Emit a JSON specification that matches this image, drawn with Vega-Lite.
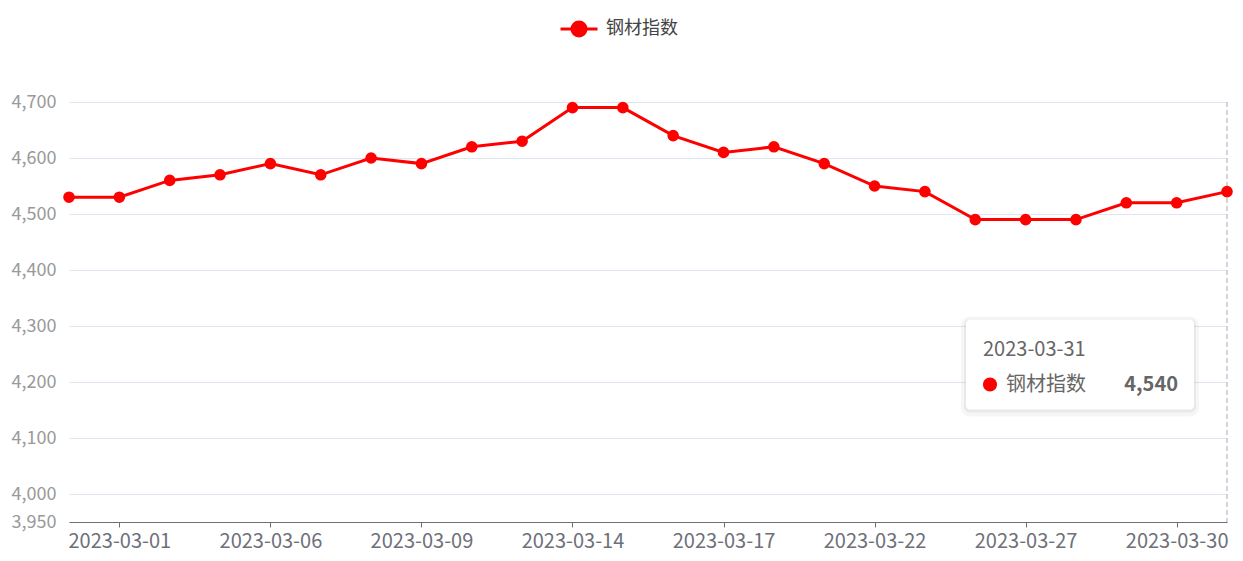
{
  "$schema": "https://vega.github.io/schema/vega-lite/v6.json",
  "width": 1158,
  "height": 420,
  "autosize": {"type": "none"},
  "padding": {"left": 69, "top": 102, "right": 16, "bottom": 39},
  "background": "#ffffff",
  "config": {
    "font": "Noto Sans CJK SC",
    "view": {"stroke": null}
  },
  "data": {
    "values": [
      {"date": "2023-02-28", "value": 4530, "series": "钢材指数"},
      {"date": "2023-03-01", "value": 4530, "series": "钢材指数"},
      {"date": "2023-03-02", "value": 4560, "series": "钢材指数"},
      {"date": "2023-03-03", "value": 4570, "series": "钢材指数"},
      {"date": "2023-03-06", "value": 4590, "series": "钢材指数"},
      {"date": "2023-03-07", "value": 4570, "series": "钢材指数"},
      {"date": "2023-03-08", "value": 4600, "series": "钢材指数"},
      {"date": "2023-03-09", "value": 4590, "series": "钢材指数"},
      {"date": "2023-03-10", "value": 4620, "series": "钢材指数"},
      {"date": "2023-03-13", "value": 4630, "series": "钢材指数"},
      {"date": "2023-03-14", "value": 4690, "series": "钢材指数"},
      {"date": "2023-03-15", "value": 4690, "series": "钢材指数"},
      {"date": "2023-03-16", "value": 4640, "series": "钢材指数"},
      {"date": "2023-03-17", "value": 4610, "series": "钢材指数"},
      {"date": "2023-03-20", "value": 4620, "series": "钢材指数"},
      {"date": "2023-03-21", "value": 4590, "series": "钢材指数"},
      {"date": "2023-03-22", "value": 4550, "series": "钢材指数"},
      {"date": "2023-03-23", "value": 4540, "series": "钢材指数"},
      {"date": "2023-03-24", "value": 4490, "series": "钢材指数"},
      {"date": "2023-03-27", "value": 4490, "series": "钢材指数"},
      {"date": "2023-03-28", "value": 4490, "series": "钢材指数"},
      {"date": "2023-03-29", "value": 4520, "series": "钢材指数"},
      {"date": "2023-03-30", "value": 4520, "series": "钢材指数"},
      {"date": "2023-03-31", "value": 4540, "series": "钢材指数"}
    ]
  },
  "encoding": {
    "x": {
      "field": "date",
      "type": "ordinal",
      "scale": {"type": "point", "padding": 0},
      "axis": {
        "title": null,
        "values": ["2023-03-01", "2023-03-06", "2023-03-09", "2023-03-14", "2023-03-17", "2023-03-22", "2023-03-27", "2023-03-30"],
        "labelAngle": 0,
        "labelFontSize": 20,
        "labelColor": "#6e7079",
        "labelPadding": 4,
        "tickSize": 5,
        "tickColor": "#6e7079",
        "domainColor": "#6e7079",
        "grid": false,
        "zindex": 1
      }
    },
    "y": {
      "field": "value",
      "type": "quantitative",
      "scale": {"domain": [3950, 4700], "nice": false, "zero": false},
      "axis": {
        "title": null,
        "values": [3950, 4000, 4100, 4200, 4300, 4400, 4500, 4600, 4700],
        "format": ",d",
        "labelFontSize": 18,
        "labelColor": "#999999",
        "labelPadding": 13,
        "labelOverlap": false,
        "ticks": false,
        "domain": false,
        "grid": true,
        "gridColor": "#e0e6f1",
        "gridWidth": 1
      }
    }
  },
  "layer": [
    {
      "transform": [{"filter": "datum.date == '2023-03-31'"}],
      "mark": {"type": "rule", "color": "#b3b8c4", "strokeDash": [5, 3], "strokeWidth": 1.2},
      "encoding": {"y": null}
    },
    {
      "mark": {"type": "line", "strokeWidth": 3, "point": {"filled": true, "size": 135, "opacity": 1}},
      "encoding": {
        "color": {
          "field": "series",
          "type": "nominal",
          "scale": {"range": ["#ff0000"]},
          "legend": {
            "title": null,
            "orient": "none",
            "legendX": 490,
            "legendY": -93,
            "padding": 0,
            "symbolType": "M -1 0 L 1 0 M 0.38 0 A 0.38 0.38 0 1 1 -0.38 0 A 0.38 0.38 0 1 1 0.38 0 Z",
            "symbolSize": 1369,
            "symbolStrokeWidth": 3,
            "symbolFillColor": "#ff0000",
            "symbolStrokeColor": "#ff0000",
            "labelFontSize": 18,
            "labelColor": "#444444",
            "labelOffset": 7,
            "encode": {"symbols": {"update": {"fill": {"value": "#ff0000"}, "stroke": {"value": "#ff0000"}, "strokeWidth": {"value": 3}, "opacity": {"value": 1}}}}
          }
        }
      }
    },
    {
      "transform": [{"filter": "datum.date == '2023-03-31'"}],
      "mark": {
        "type": "point",
        "shape": "M -257 130 L -37 130 A 4 4 0 0 1 -33 134 L -33 216 A 4 4 0 0 1 -37 220 L -257 220 A 4 4 0 0 1 -261 216 L -261 134 A 4 4 0 0 1 -257 130 Z",
        "size": 4,
        "filled": false,
        "stroke": "#000000",
        "strokeWidth": 10,
        "strokeOpacity": 0.035,
        "opacity": 1
      }
    },
    {
      "transform": [{"filter": "datum.date == '2023-03-31'"}],
      "mark": {
        "type": "point",
        "shape": "M -257 129 L -37 129 A 4 4 0 0 1 -33 133 L -33 215 A 4 4 0 0 1 -37 219 L -257 219 A 4 4 0 0 1 -261 215 L -261 133 A 4 4 0 0 1 -257 129 Z",
        "size": 4,
        "filled": false,
        "stroke": "#000000",
        "strokeWidth": 4,
        "strokeOpacity": 0.05,
        "opacity": 1
      }
    },
    {
      "transform": [{"filter": "datum.date == '2023-03-31'"}],
      "mark": {
        "type": "point",
        "shape": "M -257 128 L -37 128 A 4 4 0 0 1 -33 132 L -33 214 A 4 4 0 0 1 -37 218 L -257 218 A 4 4 0 0 1 -261 214 L -261 132 A 4 4 0 0 1 -257 128 Z",
        "size": 4,
        "filled": true,
        "fill": "#ffffff",
        "stroke": null,
        "opacity": 1
      }
    },
    {
      "transform": [{"filter": "datum.date == '2023-03-31'"}],
      "mark": {
        "type": "point",
        "shape": "M -230 193 A 7 7 0 1 1 -244 193 A 7 7 0 1 1 -230 193 Z",
        "size": 4,
        "filled": true,
        "fill": "#ff0000",
        "opacity": 1
      }
    },
    {
      "transform": [{"filter": "datum.date == '2023-03-31'"}],
      "mark": {"type": "text", "align": "left", "baseline": "middle", "dx": -244, "dy": 158, "fontSize": 20, "color": "#666666"},
      "encoding": {"text": {"field": "date"}}
    },
    {
      "transform": [{"filter": "datum.date == '2023-03-31'"}],
      "mark": {"type": "text", "align": "left", "baseline": "middle", "dx": -221, "dy": 193, "fontSize": 20, "color": "#666666"},
      "encoding": {"text": {"field": "series"}}
    },
    {
      "transform": [{"filter": "datum.date == '2023-03-31'"}],
      "mark": {"type": "text", "align": "right", "baseline": "middle", "dx": -49, "dy": 193, "fontSize": 20, "fontWeight": "bold", "color": "#666666"},
      "encoding": {"text": {"field": "value", "format": ","}}
    }
  ]
}
